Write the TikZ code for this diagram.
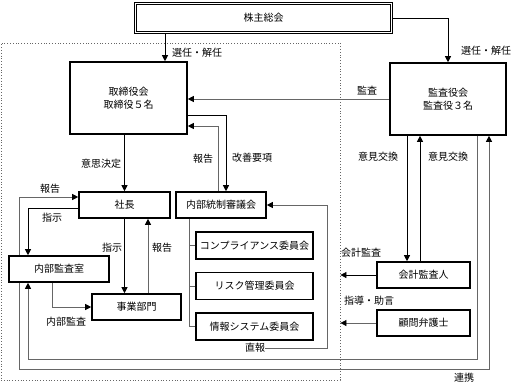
\documentclass[tikz,border=0pt]{standalone}
\usepackage{fontspec}
\setmainfont{Noto Sans CJK JP}
\usepackage{tikz}
\usetikzlibrary{positioning,arrows.meta}

\begin{document}
\begin{tikzpicture}[
  x=1pt, y=-1pt,
  bx/.style={draw, line width=1.6pt, align=center, inner sep=0pt,
    font=\fontsize{10}{13.5}\selectfont},
  sbx/.style={bx, minimum width=90pt, minimum height=26pt},
  cbx/.style={bx, minimum width=117pt, minimum height=27pt},
  lbl/.style={inner sep=0pt, font=\fontsize{10}{11}\selectfont},
  arr/.style={-{Triangle[length=6pt,width=6pt,color=black]}, line width=0.8pt},
  garr/.style={arr, draw=black!60},
  gline/.style={line width=0.8pt, draw=black!60},
  >=Latex, node distance=12pt
]
\useasboundingbox (0,0) rectangle (513,384);
% frame round the company side
\node[draw=black!60, dotted, line width=0.8pt, minimum width=339pt, minimum height=337pt, inner sep=0pt] (grp) at (170.5,211.5) {};

\node[draw, double, double distance=1.6pt, line width=0.8pt, minimum width=256pt, minimum height=29pt,
  font=\fontsize{10}{11}\selectfont] (sh) at (263.5,18) {株主総会};
\node[bx, minimum width=117pt, minimum height=72pt] (tb) at (128.5,98) {取締役会\\取締役５名};
\node[bx, minimum width=116pt, minimum height=72pt] (ka) at (448,99) {監査役会\\監査役３名};

\node[sbx, minimum width=91pt] (shacho) at (124.5,205) {社長};
\node[sbx] (nt) at (221,205) {内部統制審議会};
\node[sbx, minimum width=100pt] (na) at (59,269) {内部監査室};
\node[sbx, minimum width=89pt] (jg) at (136.5,307) {事業部門};

\node[cbx] (c1) at (254.5,245.5) {コンプライアンス委員会};
\node[cbx, below=of c1] (c2) {リスク管理委員会};
\node[cbx, below=of c2] (c3) {情報システム委員会};

\node[sbx, minimum width=93pt] (ak) at (423.5,275) {会計監査人};
\node[sbx, minimum width=93pt] (kb) at (423.5,323) {顧問弁護士};

% shareholders
\draw[arr] ([xshift=-98.5pt]sh.south) -- ([xshift=-98.5pt]sh.south |- tb.north);
\node[lbl, anchor=west] at (172,53) {選任・解任};
\draw[arr] (sh.east) -| (ka.north);
\node[lbl, anchor=west] at (461,51) {選任・解任};

% board
\draw[garr] (ka.west) -- (ka.west -| tb.east);
\node[lbl] at (367,91) {監査};
\draw[arr] ([yshift=-17pt]tb.east) -| ([xshift=5pt]nt.north);
\node[lbl] at (252,158) {改善要項};
\draw[garr] ([xshift=-3pt]nt.north) |- ([yshift=-28pt]tb.east);
\node[lbl] at (203,159) {報告};
\draw[arr] (shacho.north |- tb.south) -- (shacho.north);
\node[lbl] at (101,164) {意思決定};

% president
\draw[garr] ([xshift=-40pt]na.north) |- ([yshift=8pt]shacho.west);
\node[lbl] at (50,189) {報告};
\draw[arr] ([yshift=-3pt]shacho.west) -| ([xshift=-31pt]na.north);
\node[lbl] at (52,218) {指示};
\draw[arr] (shacho.south) -- (shacho.south |- jg.north);
\node[lbl] at (112,248) {指示};
\draw[garr] ([xshift=11.5pt]jg.north) -- ([xshift=11.5pt]jg.north |- shacho.south);
\node[lbl] at (162,248) {報告};
\draw[garr] ([xshift=-7pt]na.south) |- (jg.west);
\node[lbl] at (66,322) {内部監査};

% committees
\coordinate (tr) at ([xshift=-32pt]nt.south);
\draw[gline] (tr) |- (c3.west);
\draw[gline] (c1.west) -- (c1.west -| tr);
\draw[gline] (c2.west) -- (c2.west -| tr);
\node[lbl] (zh) at (255,348) {直報};
\draw[garr] (zh.east) -| ([xshift=61pt]nt.east) -- (nt.east);

% liaison
\draw[garr] ([xshift=29pt]ka.south) -- ++(0,224) -| ([xshift=-31pt]na.south);
\draw[garr] ([xshift=-40pt]na.south) -- ++(0,87) -| ([xshift=41pt]ka.south);
\node[lbl] at (464,378) {連携};

% auditors and counsel
\draw[arr] ([xshift=-41pt]ka.south) -- ([xshift=-41pt]ka.south |- ak.north);
\node[lbl] at (378,157) {意見交換};
\draw[arr] ([xshift=-3.5pt]ak.north) -- ([xshift=-3.5pt]ak.north |- ka.south);
\node[lbl] at (448,157) {意見交換};
\draw[arr] (ak.west) -- (ak.west -| grp.east);
\node[lbl] at (361,253) {会計監査};
\draw[garr] (kb.west) -- (kb.west -| grp.east);
\node[lbl] at (369,301) {指導・助言};
\end{tikzpicture}
\end{document}
